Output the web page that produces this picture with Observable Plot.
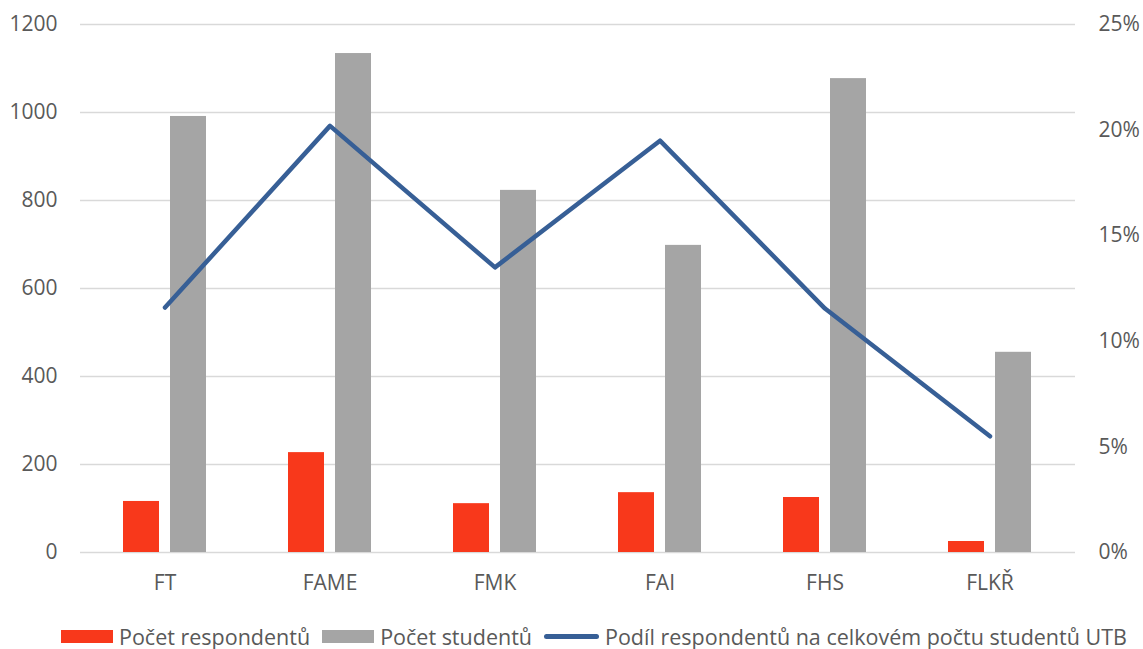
<!DOCTYPE html>
<html>
<head>
<meta charset="utf-8">
<script src="https://cdn.jsdelivr.net/npm/d3@7"></script>
<script src="https://cdn.jsdelivr.net/npm/@observablehq/plot@0.6"></script>
<style>
  body { margin: 0; background: #fff; font-family: "Open Sans", Lato, sans-serif; }
  #legend { display: flex; align-items: center; padding-left: 61px; font-size: 21.5px; color: #595959; height: 40px; margin-top: 16px; }
  .sw { display: inline-block; width: 52px; height: 13px; margin-right: 6px; }
  .ln { display: inline-block; width: 55px; height: 5px; border-radius: 3px; margin-right: 6px; }
  .item { display: flex; align-items: center; margin-right: 12px; white-space: nowrap; }
</style>
</head>
<body>
<div id="chart"></div>
<div id="legend"></div>
<script>
const categories = ["FT", "FAME", "FMK", "FAI", "FHS", "FLKŘ"];
const respondents = [116, 227, 111, 136, 125, 25];
const students = [991, 1134, 823, 698, 1077, 455];
const share = [0.116, 0.202, 0.135, 0.195, 0.1155, 0.055];
const leftTicks = [0, 200, 400, 600, 800, 1000, 1200];
const rightTicks = [0, 0.05, 0.10, 0.15, 0.20, 0.25];
const seriesNames = ["Počet respondentů", "Počet studentů", "Podíl respondentů na celkovém počtu studentů UTB"];
const colors = ["#F8381B", "#A5A5A5", "#375F96"];

const leftMax = 1200, rightMax = 0.25;
const toLeft = p => p * leftMax / rightMax;

const rows = categories.map((c, i) => ({cat: c, resp: respondents[i], stud: students[i], share: share[i]}));

const chart = Plot.plot({
  width: 1143,
  height: 600,
  marginLeft: 80,
  marginRight: 68,
  marginTop: 24,
  marginBottom: 48,
  style: {fontFamily: "'Open Sans', Lato, sans-serif", fontSize: "21px", color: "#595959", background: "#fff"},
  x: {domain: categories, paddingInner: 0.494, paddingOuter: 0.247, label: null},
  y: {domain: [0, leftMax], label: null},
  marks: [
    Plot.ruleY(leftTicks, {stroke: "#D9D9D9", strokeWidth: 1.5}),
    Plot.axisY(leftTicks, {anchor: "left", tickSize: 0, tickPadding: 23, label: null, fontSize: 21, tickFormat: d => String(d)}),
    Plot.axisY(rightTicks.map(toLeft), {anchor: "right", tickSize: 0, tickPadding: 23, label: null, fontSize: 21,
      tickFormat: v => Math.round(v / leftMax * rightMax * 100) + "%"}),
    Plot.axisX({tickSize: 0, tickPadding: 23, label: null, fontSize: 21}),
    Plot.barY(rows, {x: "cat", y: "resp", fill: colors[0], insetRight: 47}),
    Plot.barY(rows, {x: "cat", y: "stud", fill: colors[1], insetLeft: 47}),
    Plot.line(rows, {x: "cat", y: d => toLeft(d.share), stroke: colors[2], strokeWidth: 4.5, strokeLinecap: "round", strokeLinejoin: "round"})
  ]
});
document.getElementById("chart").appendChild(chart);

const legend = document.getElementById("legend");
seriesNames.forEach((name, i) => {
  const item = document.createElement("div");
  item.className = "item";
  const sw = document.createElement("span");
  sw.className = i < 2 ? "sw" : "ln";
  sw.style.background = colors[i];
  item.appendChild(sw);
  item.appendChild(document.createTextNode(name));
  legend.appendChild(item);
});
</script>
</body>
</html>
